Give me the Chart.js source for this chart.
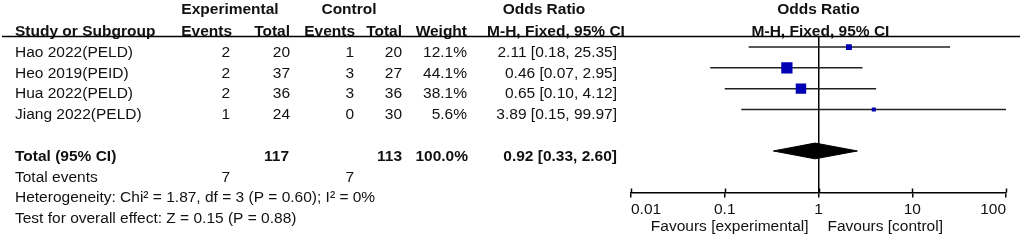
<!DOCTYPE html>
<html lang="en">
<head>
<meta charset="UTF-8">
<title>Forest plot - Odds Ratio</title>
<script src="https://cdn.jsdelivr.net/npm/chart.js"></script>
<style>
  body { margin: 0; background: #fff; }
</style>
</head>
<body>
<canvas id="forest" width="1022" height="241"></canvas>
<script>
// study data
const studies = ['Hao 2022(PELD)', 'Heo 2019(PEID)', 'Hua 2022(PELD)', 'Jiang 2022(PELD)'];
const expEvents = [2, 2, 2, 1];
const expTotal = [20, 37, 36, 24];
const ctrlEvents = [1, 3, 3, 0];
const ctrlTotal = [20, 27, 36, 30];
const weights = [12.1, 44.1, 38.1, 5.6];
const oddsRatio = [2.11, 0.46, 0.65, 3.89];
const ciLow = [0.18, 0.07, 0.10, 0.15];
const ciHigh = [25.35, 2.95, 4.12, 99.97];

// pooled result: [OR, lower, upper]
const pooledOR = [0.92, 0.33, 2.60];
const pooledTotals = [117, 113];
const pooledEvents = [7, 7];
const pooledWeight = 100.0;

const tickValues = [0.01, 0.1, 1, 10, 100];
const heterogeneity = 'Heterogeneity: Chi² = 1.87, df = 3 (P = 0.60); I² = 0%';
const overallTest = 'Test for overall effect: Z = 0.15 (P = 0.88)';

const TOTAL_ROW = 5;
const FONT = '"Liberation Sans", Arial, sans-serif';
const FS = 15.5;
const INK = '#111';

const fmtCI = (v, lo, hi) => v.toFixed(2) + ' [' + lo.toFixed(2) + ', ' + hi.toFixed(2) + ']';

const datasets = [];
// squares (first so they sit on top)
datasets.push({
    data: oddsRatio.map((v, i) => ({ x: v, y: i })),
    pointStyle: 'rect',
    pointRadius: weights.map(w => 1.2 * Math.sqrt(w)),
    backgroundColor: '#0000b4',
    borderWidth: 0,
    showLine: false
});
// CI whiskers
studies.forEach((s, i) => {
    datasets.push({
        data: [{ x: ciLow[i], y: i }, { x: ciHigh[i], y: i }],
        showLine: true,
        borderColor: '#222',
        borderWidth: 1.5,
        pointRadius: 0
    });
});
// pooled diamond
const dh = 0.38;
datasets.push({
    data: [
        { x: pooledOR[1], y: TOTAL_ROW },
        { x: pooledOR[0], y: TOTAL_ROW - dh },
        { x: pooledOR[2], y: TOTAL_ROW },
        { x: pooledOR[0], y: TOTAL_ROW + dh },
        { x: pooledOR[1], y: TOTAL_ROW }
    ],
    showLine: true,
    fill: 'shape',
    borderColor: '#000',
    backgroundColor: '#000',
    borderWidth: 1,
    pointRadius: 0,
    tension: 0
});

const tablePlugin = {
    id: 'table',
    afterDraw(chart) {
        const ctx = chart.ctx;
        const xs = chart.scales.x, ys = chart.scales.y;
        const rowY = r => ys.getPixelForValue(r) + 5.5;

        function t(str, x, y, align, bold) {
            ctx.font = (bold ? 'bold ' : '') + FS + 'px ' + FONT;
            ctx.fillStyle = INK;
            ctx.textAlign = align || 'left';
            ctx.textBaseline = 'middle';
            ctx.fillText(str, x, y);
        }

        ctx.save();
        // headers
        t('Experimental', 230, 10, 'center', true);
        t('Control', 349, 10, 'center', true);
        t('Odds Ratio', 544, 10, 'center', true);
        t('Odds Ratio', xs.getPixelForValue(1), 10, 'center', true);
        t('Study or Subgroup', 15, 32, 'left', true);
        t('Events', 232, 32, 'right', true);
        t('Total', 290, 32, 'right', true);
        t('Events', 355, 32, 'right', true);
        t('Total', 402, 32, 'right', true);
        t('Weight', 467, 32, 'right', true);
        t('M-H, Fixed, 95% CI', 556, 32, 'center', true);
        t('M-H, Fixed, 95% CI', xs.getPixelForValue(1) + 2, 32, 'center', true);

        ctx.strokeStyle = '#000';
        ctx.lineWidth = 1.5;
        ctx.beginPath();
        ctx.moveTo(2, 36.5);
        ctx.lineTo(1020, 36.5);
        ctx.stroke();

        // study rows
        studies.forEach((s, i) => {
            const y = rowY(i);
            t(s, 15, y);
            t(String(expEvents[i]), 230, y, 'right');
            t(String(expTotal[i]), 290, y, 'right');
            t(String(ctrlEvents[i]), 354, y, 'right');
            t(String(ctrlTotal[i]), 402, y, 'right');
            t(weights[i].toFixed(1) + '%', 467, y, 'right');
            t(fmtCI(oddsRatio[i], ciLow[i], ciHigh[i]), 617, y, 'right');
        });

        // totals
        let y = rowY(TOTAL_ROW);
        t('Total (95% CI)', 15, y, 'left', true);
        t(String(pooledTotals[0]), 289, y, 'right', true);
        t(String(pooledTotals[1]), 402, y, 'right', true);
        t(pooledWeight.toFixed(1) + '%', 468, y, 'right', true);
        t(fmtCI(pooledOR[0], pooledOR[1], pooledOR[2]), 617, y, 'right', true);

        y = rowY(TOTAL_ROW + 1);
        t('Total events', 15, y);
        t(String(pooledEvents[0]), 230, y, 'right');
        t(String(pooledEvents[1]), 354, y, 'right');
        t(heterogeneity, 15, rowY(TOTAL_ROW + 2));
        t(overallTest, 15, rowY(TOTAL_ROW + 3));

        // upward half of the tick marks
        const axisY = xs.top;
        ctx.lineWidth = 1.5;
        tickValues.forEach(v => {
            const px = Math.round(xs.getPixelForValue(v)) + 0.5;
            ctx.beginPath();
            ctx.moveTo(px, axisY);
            ctx.lineTo(px, axisY - 4);
            ctx.stroke();
        });

        // favours labels
        const one = xs.getPixelForValue(1);
        t('Favours [experimental]', one - 10, 227, 'right');
        t('Favours [control]', one + 9, 227, 'left');
        ctx.restore();
    }
};

new Chart(document.getElementById('forest'), {
    type: 'scatter',
    data: { datasets },
    options: {
        responsive: false,
        animation: false,
        layout: { padding: { left: 631, right: 16, top: 36.7, bottom: 0 } },
        plugins: { legend: { display: false }, tooltip: { enabled: false } },
        scales: {
            x: {
                type: 'logarithmic',
                min: 0.01,
                max: 100,
                afterBuildTicks: s => { s.ticks = tickValues.map(v => ({ value: v })); },
                afterFit: s => { s.height = 48.5; },
                ticks: {
                    callback: v => String(v),
                    autoSkip: false,
                    maxRotation: 0,
                    align: 'inner',
                    padding: 3,
                    color: INK,
                    font: { family: FONT, size: FS }
                },
                grid: {
                    color: c => (c.tick && c.tick.value === 1) ? '#000' : 'rgba(0,0,0,0)',
                    lineWidth: 1.5,
                    tickColor: '#000',
                    tickLength: 5
                },
                border: { color: '#000', width: 1.5 }
            },
            y: {
                type: 'linear',
                reverse: true,
                min: -0.5,
                max: 7,
                display: false
            }
        }
    },
    plugins: [tablePlugin]
});
</script>
</body>
</html>
